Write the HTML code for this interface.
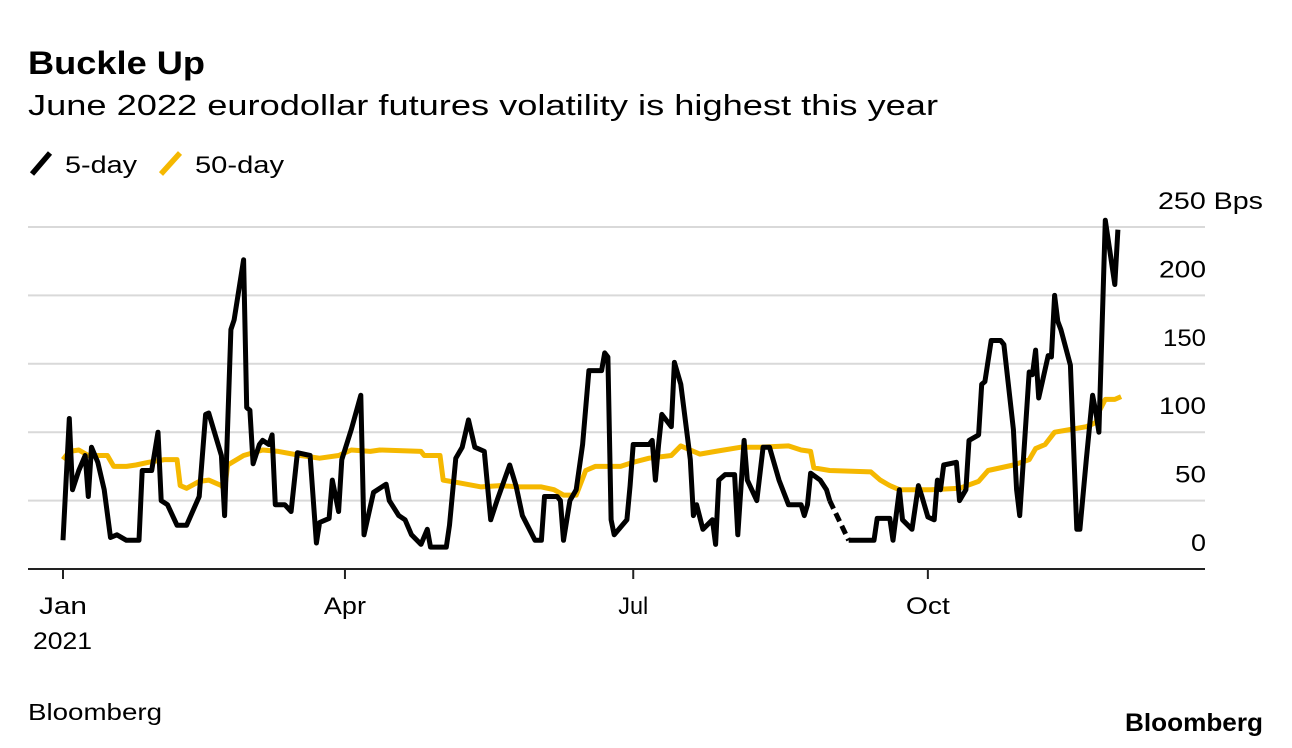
<!DOCTYPE html>
<html><head><meta charset="utf-8"><style>
body{margin:0;background:#fff;font-family:"Liberation Sans",Arial,sans-serif;}
svg{display:block}
</style></head><body>
<svg id="chart" width="1292" height="748" viewBox="0 0 1292 748">
<text x="28" y="74" font-size="32" font-weight="bold" fill="#000" textLength="177" lengthAdjust="spacingAndGlyphs">Buckle Up</text>
<text x="28" y="115" font-size="29" fill="#000" textLength="910" lengthAdjust="spacingAndGlyphs">June 2022 eurodollar futures volatility is highest this year</text>
<g>
<g>
<line x1="32" y1="174" x2="50" y2="153" stroke="#000" stroke-width="5.5"/>
<text x="65" y="173" font-size="24" fill="#000" textLength="72" lengthAdjust="spacingAndGlyphs">5-day</text></g>
<g>
<line x1="161" y1="174" x2="180" y2="153" stroke="#f5b800" stroke-width="5.5"/>
<text x="195" y="173" font-size="24" fill="#000" textLength="89" lengthAdjust="spacingAndGlyphs">50-day</text></g>
</g>
<g id="grid"></g>
<g id="yaxis"></g>
<g id="xaxis"></g>
<g id="series"></g>
<text x="28" y="720" font-size="23" fill="#000" textLength="134" lengthAdjust="spacingAndGlyphs">Bloomberg</text>
<text x="1125" y="731" font-size="25" font-weight="bold" fill="#000" textLength="138" lengthAdjust="spacingAndGlyphs">Bloomberg</text>
</svg>
<script>
const yTicks=[0,50,100,150,200,250];
const yTickLabels=["0","50","100","150","200","250 Bps"];
const xTickDays=[0,89,180,273];
const xTickLabels=["Jan","Apr","Jul","Oct"];
const fiveDayDays=[0,2,3,5,7,8,9,11,13,15,17,20,24,25,28,30,31,33,36,39,43,45,46,50,51,53,54,57,58,59,60,62,63,65,66,67,70,72,74,78,80,81,84,85,87,88,91,94,95,98,102,103,106,108,110,113,115,116,121,122,124,126,128,130,133,135,137,141,143,145,149,151,152,156,157,158,160,162,164,166,170,171,172,173,174,178,179,180,185,186,187,188,189,192,193,195,198,199,200,202,205,206,207,209,212,213,215,216,219,221,223,226,229,233,234,235,236,239,241,242,248,256,257,261,262,264,265,268,270,271,273,275,276,277,278,282,283,285,286,289,290,291,293,296,297,300,301,302,305,306,307,308,311,312,313,314,315,318,320,321,323,325,326,327,329,332,333];
const fiveDayValues=[21,110,58,72,83,53,89,78,58,23,25,21,21,72,72,100,50,47,32,32,53,113,114,83,39,175,182,226,118,116,77,91,94,91,98,47,47,42,85,83,19,34,37,65,42,80,102,127,25,56,62,50,39,36,25,18,29,16,16,32,81,89,109,89,86,36,50,76,61,39,21,21,53,53,50,21,50,58,91,145,145,158,155,36,25,36,61,91,91,94,65,91,113,104,151,135,80,39,47,29,36,18,65,69,69,25,94,65,50,89,89,65,47,47,39,47,70,65,58,50,21,21,37,37,21,58,36,29,61,54,38,36,65,58,76,78,50,58,94,98,135,137,167,167,164,102,58,39,144,142,160,125,156,155,200,181,175,149,29,29,80,127,115,100,255,208,248];
const gapStartDay=242, gapEndDay=248;
const fiftyDayDays=[0,2,5,8,14,16,20,23,27,32,36,37,39,43,46,50,51,52,57,63,68,75,81,87,91,97,100,113,114,119,120,125,132,138,144,151,155,158,162,163,165,168,176,180,185,192,195,198,201,206,214,220,229,233,236,237,242,255,258,261,264,274,283,289,292,300,305,307,310,313,318,323,326,327,329,332,334];
const fiftyDayValues=[80,86,87,83,83,75,75,76,78,80,80,61,59,64,65,61,58,76,83,87,86,83,81,83,87,86,87,86,83,83,65,63,60,61,60,60,58,54,54,60,72,75,75,78,81,83,90,87,84,86,89,89,90,87,86,74,72,71,65,61,58,58,59,64,72,76,80,88,91,100,102,104,107,115,124,124,126];

const NS="http://www.w3.org/2000/svg";
const X0=63, PXD=3.168, Y0=569, PXV=1.368;
function xs(d){return X0+d*PXD;}
function ys(v){return Y0-v*PXV;}
function mk(tag,attrs,parent){const e=document.createElementNS(NS,tag);for(const k in attrs)e.setAttribute(k,attrs[k]);parent.appendChild(e);return e;}
const grid=document.getElementById('grid'),yax=document.getElementById('yaxis'),xax=document.getElementById('xaxis'),ser=document.getElementById('series');
const yLabW={"0":15,"50":31,"100":47,"150":43,"200":47};
yTicks.forEach((t,i)=>{
  if(t>0){const g=mk('line',{x1:28,x2:1205,y1:ys(t),y2:ys(t),stroke:'#d9d9d9','stroke-width':2},grid);
  
  }
  let lb;
  if(i===yTicks.length-1){lb=mk('text',{x:1158,y:ys(t)-18,'font-size':24,fill:'#000',textLength:105,lengthAdjust:'spacingAndGlyphs'},yax);}
  else{const w=yLabW[yTickLabels[i]];lb=mk('text',{x:1206-w,y:ys(t)-18,'font-size':24,fill:'#000',textLength:w,lengthAdjust:'spacingAndGlyphs'},yax);}
  lb.textContent=yTickLabels[i];
  
  
});
const ax=mk('line',{x1:28,x2:1205,y1:Y0,y2:Y0,stroke:'#222','stroke-width':2},xax);


const xLabW=[48,42,30,44];
xTickDays.forEach((d,i)=>{
  const tk=mk('line',{x1:xs(d),x2:xs(d),y1:Y0,y2:Y0+10,stroke:'#222','stroke-width':2},xax);
  
  
  const lb=mk('text',{x:xs(d)-xLabW[i]/2,y:614,'font-size':24,fill:'#000',textLength:xLabW[i],lengthAdjust:'spacingAndGlyphs'},xax);
  lb.textContent=xTickLabels[i];
  
  
});
const yr=mk('text',{x:33,y:649,'font-size':24,fill:'#000',textLength:59,lengthAdjust:'spacingAndGlyphs'},xax);
yr.textContent='2021';



function pts(days,vals,filter){return days.map((d,i)=>[d,vals[i]]).filter(filter).map(p=>xs(p[0]).toFixed(1)+','+ys(p[1]).toFixed(1)).join(' ');}
const fifty=mk('polyline',{points:pts(fiftyDayDays,fiftyDayValues,()=>true),fill:'none',stroke:'#f5b800','stroke-width':5,'stroke-linejoin':'round'},ser);


const a=mk('polyline',{points:pts(fiveDayDays,fiveDayValues,p=>p[0]<=gapStartDay),fill:'none',stroke:'#000','stroke-width':5,'stroke-linejoin':'round'},ser);


const b=mk('polyline',{points:pts(fiveDayDays,fiveDayValues,p=>p[0]>=gapEndDay),fill:'none',stroke:'#000','stroke-width':5,'stroke-linejoin':'round'},ser);


const gi=fiveDayDays.indexOf(gapStartDay), gj=fiveDayDays.indexOf(gapEndDay);
const g=mk('line',{x1:xs(gapStartDay),y1:ys(fiveDayValues[gi]),x2:xs(gapEndDay),y2:ys(fiveDayValues[gj]),stroke:'#000','stroke-width':5,'stroke-dasharray':'9,5'},ser);


</script>
</body></html>
